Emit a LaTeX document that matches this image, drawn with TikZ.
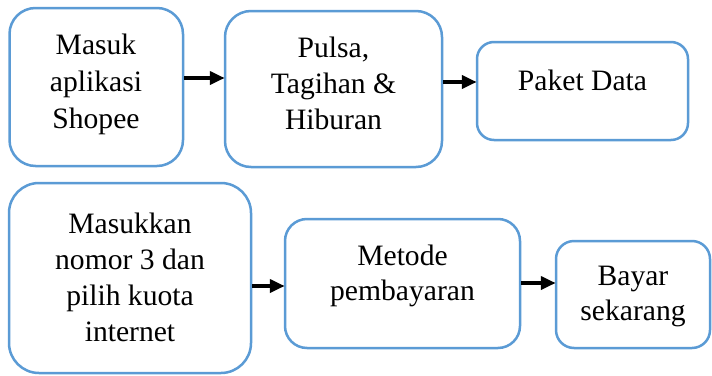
\documentclass[tikz,border=0pt]{standalone}
\usepackage{fontspec}
\setmainfont{Liberation Serif}
\newfontfamily\timesfont{Liberation Serif}
\usetikzlibrary{arrows.meta}
\definecolor{boxblue}{HTML}{5B9BD5}
\newcommand{\boxtext}[2]{\timesfont\fontsize{29.6}{#1}\selectfont\begin{tabular}[t]{@{}c@{}}#2\end{tabular}}
\tikzset{
  flowbox/.style={draw=boxblue, line width=2.5pt, rectangle, fill=white},
  lbl/.style={inner sep=0pt, anchor=base, font=\timesfont},
  arr/.style={line width=3.8pt, -{Triangle[length=15pt,width=13pt]}, shorten >=-1pt}
}
\begin{document}
\begin{tikzpicture}[x=1pt,y=-1pt]
\useasboundingbox (0,0) rectangle (712,375);
\node[flowbox, rounded corners=26pt, minimum width=173.5pt, minimum height=158pt] (b1) at (96.25,87) {};
\node[flowbox, rounded corners=26pt, minimum width=217pt, minimum height=156pt] (b2) at (333.5,89) {};
\node[flowbox, rounded corners=17pt, minimum width=211pt, minimum height=98pt] (b3) at (582.5,91) {};
\node[flowbox, rounded corners=30pt, minimum width=242pt, minimum height=190pt] (b4) at (130,278) {};
\node[flowbox, rounded corners=22pt, minimum width=235pt, minimum height=129pt] (b5) at (402.5,283.5) {};
\node[flowbox, rounded corners=18pt, minimum width=154pt, minimum height=107pt] (b6) at (633,294.5) {};

\node[lbl] (t1) at (96,54) {\boxtext{37}{Masuk\\aplikasi\\Shopee}};
\node[lbl] (t2) at (333.5,57) {\boxtext{36}{Pulsa,\\Tagihan \&\\Hiburan}};
\node[lbl] (t3) at (582.5,90) {\boxtext{36}{Paket Data}};
\node[lbl] (t4) at (130,233) {\boxtext{36.3}{Masukkan\\nomor 3 dan\\pilih kuota\\internet}};
\node[lbl] (t5) at (402.5,265) {\boxtext{35}{Metode\\pembayaran}};
\node[lbl] (t6) at (633,285) {\boxtext{35}{Bayar\\sekarang}};

\draw[arr] (b1.east |- 0,78) -- (b2.west |- 0,78);
\draw[arr] (b2.east |- 0,82) -- (b3.west |- 0,82);
\draw[arr] (b4.east |- 0,286) -- (b5.west |- 0,286);
\draw[arr] (b5.east |- 0,283) -- (b6.west |- 0,283);
\end{tikzpicture}
\end{document}
